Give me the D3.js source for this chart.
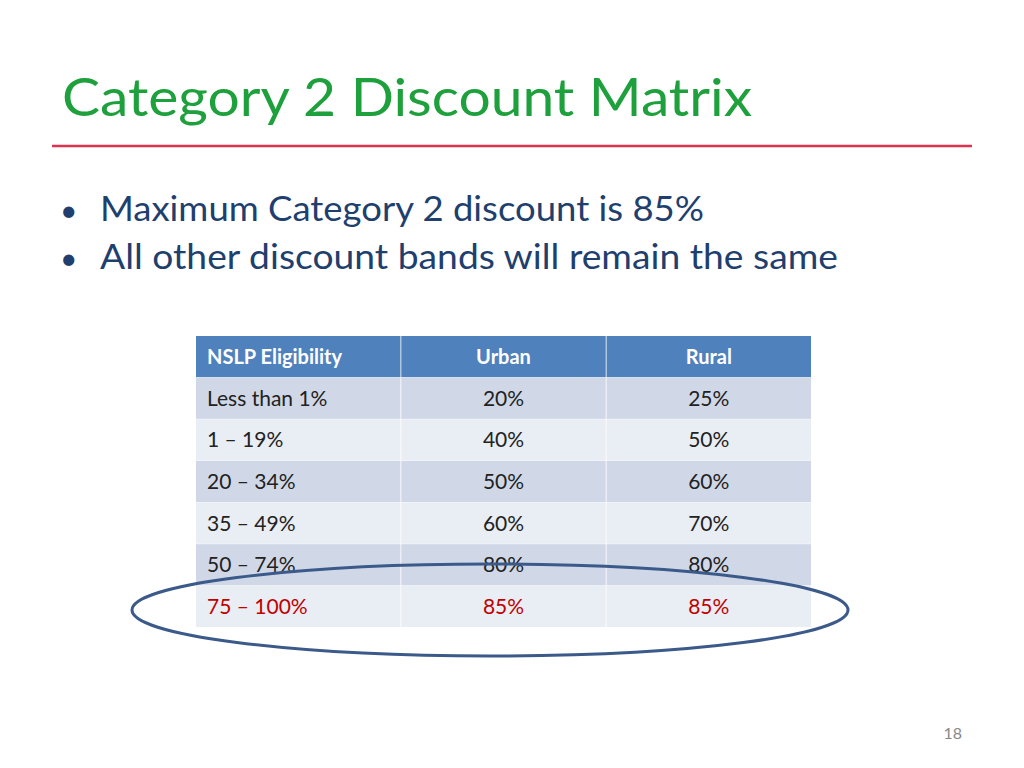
<!DOCTYPE html>
<html><head><meta charset="utf-8">
<script src="https://cdn.jsdelivr.net/npm/d3@7"></script>
<style>body{margin:0;background:#fff}</style>
</head><body>
<div class="canvas"></div>
<script>
const title = 'Category 2 Discount Matrix';
const bullets = ['Maximum Category 2 discount is 85%', 'All other discount bands will remain the same'];
const columns = ['NSLP Eligibility', 'Urban', 'Rural'];
const bands = ['Less than 1%', '1 – 19%', '20 – 34%', '35 – 49%', '50 – 74%', '75 – 100%'];
const urban = ['20%', '40%', '50%', '60%', '80%', '85%'];
const rural = ['25%', '50%', '60%', '70%', '80%', '85%'];
const pageNo = '18';

const font = 'Lato, "Open Sans", sans-serif';
const svg = d3.select('.canvas').append('svg')
    .attr('width', 1024).attr('height', 768);

svg.append('text').attr('x', 62).attr('y', 116)
    .attr('font-family', font).attr('font-size', 52).attr('fill', '#1ea03c')
    .attr('textLength', 690).attr('lengthAdjust', 'spacingAndGlyphs')
    .text(title);
svg.append('line').attr('x1', 52).attr('x2', 972).attr('y1', 146).attr('y2', 146)
    .attr('stroke', '#e0324e').attr('stroke-width', 2.5);

const b = svg.selectAll('g.bullet').data(bullets).enter().append('g')
    .attr('transform', (d, i) => `translate(0, ${221 + i * 48})`);
b.append('text').attr('x', 60).attr('font-family', font).attr('font-size', 30)
    .attr('fill', '#1f3f6e').text('•');
b.append('text').attr('x', 100).attr('font-family', font).attr('font-size', 34)
    .attr('fill', '#1f3f6e')
    .attr('textLength', (d, i) => i === 0 ? 604 : 738).attr('lengthAdjust', 'spacingAndGlyphs')
    .text(d => d);

// table
const x = d3.scaleBand().domain(columns).range([196, 811]).paddingInner(0.004);
const rowKeys = ['header', ...bands];
const y = d3.scaleBand().domain(rowKeys).range([336, 627]).paddingInner(0.01);
const rows = bands.map((d, i) => [d, urban[i], rural[i]]);
const table = svg.append('g');

columns.forEach(c => {
  table.append('rect').attr('x', x(c)).attr('y', y('header'))
      .attr('width', x.bandwidth()).attr('height', y.bandwidth()).attr('fill', '#4f81bd');
  table.append('text')
      .attr('x', c === columns[0] ? x(c) + 11 : x(c) + x.bandwidth() / 2)
      .attr('text-anchor', c === columns[0] ? 'start' : 'middle')
      .attr('y', y('header') + y.bandwidth() / 2).attr('dy', '0.36em')
      .attr('font-family', font).attr('font-size', 20).attr('font-weight', 'bold')
      .attr('fill', '#fff').text(c);
});

rows.forEach((r, i) => {
  const key = bands[i];
  const last = i === rows.length - 1;
  r.forEach((v, j) => {
    const c = columns[j];
    table.append('rect').attr('x', x(c)).attr('y', y(key))
        .attr('width', x.bandwidth()).attr('height', y.bandwidth())
        .attr('fill', i % 2 === 0 ? '#d0d8e8' : '#e9edf4');
    table.append('text')
        .attr('x', j === 0 ? x(c) + 11 : x(c) + x.bandwidth() / 2)
        .attr('text-anchor', j === 0 ? 'start' : 'middle')
        .attr('y', y(key) + y.bandwidth() / 2).attr('dy', '0.36em')
        .attr('font-family', font).attr('font-size', 21)
        .attr('fill', last ? '#c00000' : '#222').text(v);
  });
});

svg.append('ellipse').attr('cx', 490).attr('cy', 610).attr('rx', 358).attr('ry', 46)
    .attr('fill', 'none').attr('stroke', '#3b5a8a').attr('stroke-width', 3);

svg.append('text').attr('x', 962).attr('y', 739).attr('text-anchor', 'end')
    .attr('font-family', font).attr('font-size', 16).attr('fill', '#888').text(pageNo);
</script>
</body></html>
